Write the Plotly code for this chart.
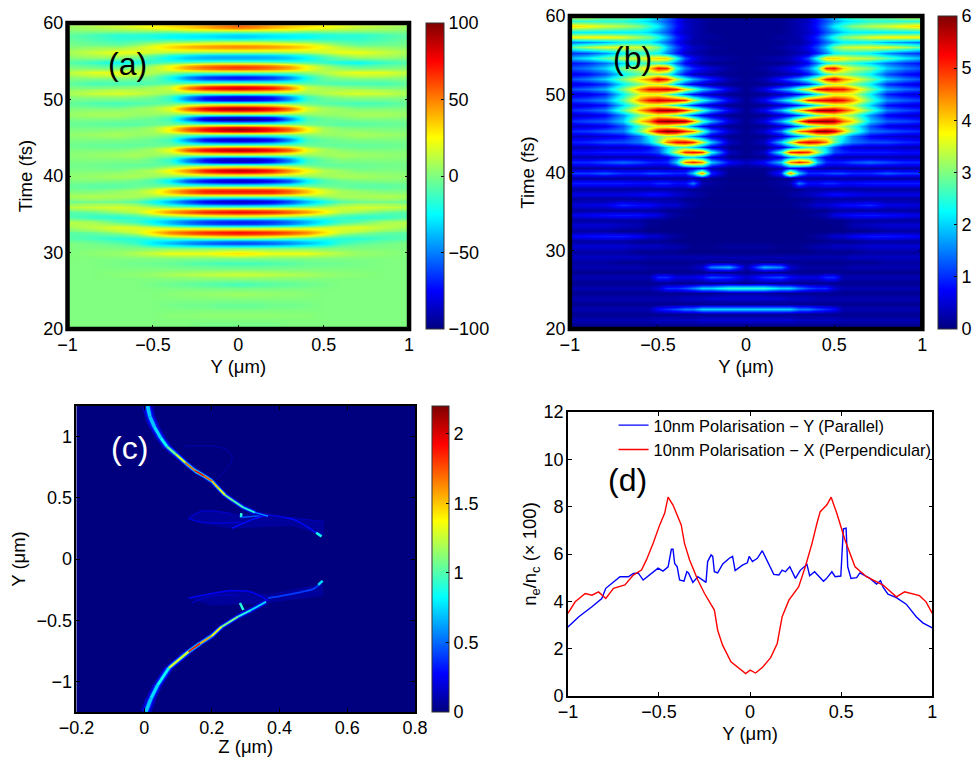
import numpy as np
import plotly.graph_objects as go
from plotly.colors import sample_colorscale

W, H = 976, 757
FONT = "Liberation Sans"

jet = [[0.0, "#00007f"], [0.125, "#0000ff"], [0.375, "#00ffff"],
       [0.625, "#ffff00"], [0.875, "#ff0000"], [1.0, "#7f0000"]]

# panel a: field, crests, troughs, their shoulders and zero rows, Y >= 0 half
a_y = [0, 0.1, 0.2, 0.3, 0.4, 0.5, 0.6, 0.7, 0.85, 1.0]
a_time = [59.6, 59.38, 58.93, 58.47, 58.25, 58.03, 57.58, 57.12, 56.9, 56.68, 56.23,
          55.77, 55.55, 55.33, 54.88, 54.42, 54.2, 53.98, 53.53, 53.07, 52.85, 52.63, 52.18,
          51.72, 51.5, 51.28, 50.83, 50.37, 50.15, 49.93, 49.48, 49.02, 48.8, 48.58, 48.13,
          47.67, 47.45, 47.23, 46.78, 46.32, 46.1, 45.88, 45.43, 44.97, 44.75, 44.53, 44.08,
          43.62, 43.4, 43.18, 42.73, 42.27, 42.05, 41.83, 41.38, 40.92, 40.7, 40.48, 40.03,
          39.57, 39.35, 39.13, 38.68, 38.22, 38.0, 37.78, 37.33, 36.87, 36.65, 36.43, 35.98,
          35.52, 35.3, 35.08, 34.63, 34.17, 33.95, 33.73, 33.28, 32.82, 32.6, 32.38, 31.93,
          31.47, 31.25, 31.03, 30.58, 29.9, 29.23, 28.55, 27.88, 27.2, 26.53,
          25.85, 25.18, 24.5, 23.83, 23.15, 22.48, 21.8, 21.13, 20.45, 19.78]
a_field = [
    [55, 50, 42, 35, 30, 25, 20, 15, 10, 5],
    [47, 43, 36, 30, 25, 21, 16, 12, 8, 4],
    [5, 5, 5, 5, 0, 0, 0, 0, 0, 0],
    [-30, -28, -25, -23, -21, -17, -15, -15, -10, -5],
    [-35, -33, -30, -28, -25, -20, -18, -18, -12, -6],
    [-30, -28, -25, -24, -21, -18, -17, -16, -10, -5],
    [5, 5, 3, 0, 0, -5, -8, -12, -8, -3],
    [42, 41, 38, 34, 27, 17, 3, -4, -2, -1],
    [50, 48, 45, 40, 32, 22, 10, 2, 2, 0],
    [42, 41, 39, 35, 29, 20, 14, 9, 6, 3],
    [5, 5, 5, 8, 10, 15, 22, 22, 15, 8],
    [-36, -36, -34, -28, -18, -6, 6, 12, 9, 4],
    [-42, -42, -40, -35, -25, -12, -2, 5, 5, 2],
    [-36, -36, -35, -32, -24, -14, -8, -6, -3, -2],
    [0, 0, -3, -8, -10, -15, -22, -25, -15, -8],
    [55, 53, 47, 37, 19, 4, -7, -12, -7, -3],
    [65, 62, 55, 45, 25, 10, 0, -5, -3, 0],
    [55, 53, 47, 38, 22, 10, 6, 4, 5, 4],
    [0, 0, 0, 0, 5, 10, 18, 22, 20, 12],
    [-64, -61, -55, -41, -18, -2, 8, 11, 10, 5],
    [-75, -72, -65, -48, -22, -5, 2, 5, 5, 2],
    [-64, -61, -56, -42, -20, -6, -3, -2, -2, 0],
    [0, 0, -3, -5, -8, -10, -12, -12, -12, -6],
    [72, 68, 61, 42, 12, 4, 0, -2, -4, -2],
    [85, 80, 72, 50, 15, 8, 5, 3, 0, 0],
    [72, 68, 61, 43, 13, 9, 9, 9, 6, 3],
    [0, 0, 0, 3, 5, 10, 15, 18, 15, 8],
    [-75, -72, -64, -42, -12, -1, 4, 6, 5, 3],
    [-88, -85, -75, -50, -15, -5, -2, 0, 0, 0],
    [-75, -72, -64, -43, -13, -6, -5, -4, -4, -2],
    [0, 0, 0, -3, -5, -8, -10, -12, -10, -5],
    [80, 76, 66, 46, 16, 5, 0, -4, -3, -2],
    [95, 90, 78, 55, 20, 8, 5, 0, 0, 0],
    [80, 76, 66, 47, 17, 7, 5, 3, 3, 2],
    [0, 0, 0, 0, 3, 5, 5, 8, 8, 5],
    [-85, -81, -72, -42, -10, -3, 0, 3, 3, 2],
    [-100, -95, -85, -50, -12, -5, -3, 0, 0, 0],
    [-85, -81, -72, -43, -11, -5, -5, -3, -2, -2],
    [0, 0, 0, 0, -3, -5, -8, -8, -6, -4],
    [80, 75, 64, 49, 23, 5, 0, -2, -2, -2],
    [95, 88, 75, 58, 28, 8, 3, 2, 0, 0],
    [80, 75, 64, 49, 24, 7, 4, 4, 2, 1],
    [0, 0, 0, 0, 3, 5, 5, 8, 6, 3],
    [-75, -72, -64, -41, -10, -3, 0, 3, 2, 1],
    [-88, -85, -75, -48, -12, -5, -2, 0, 0, 0],
    [-75, -72, -64, -41, -11, -5, -3, -2, -2, -1],
    [0, 0, 0, 0, -3, -5, -6, -6, -5, -3],
    [76, 72, 64, 49, 18, 5, 0, -2, -2, -1],
    [90, 85, 75, 58, 22, 8, 3, 0, 0, 0],
    [76, 72, 64, 49, 19, 7, 5, 3, 2, 1],
    [0, 0, 0, 0, 3, 5, 8, 6, 4, 2],
    [-76, -75, -64, -42, -12, -3, 3, 2, 2, 1],
    [-90, -88, -75, -50, -15, -5, 0, 0, 0, 0],
    [-76, -75, -64, -43, -13, -5, -2, -2, -1, -1],
    [0, 0, 0, 0, -3, -6, -6, -5, -3, -2],
    [75, 70, 60, 41, 21, 6, 2, -2, -1, -1],
    [88, 82, 70, 48, 25, 10, 5, 0, 0, 0],
    [75, 70, 60, 41, 21, 9, 6, 3, 2, 1],
    [0, 0, 0, 0, 3, 5, 8, 8, 5, 3],
    [-75, -72, -64, -51, -23, -7, 0, 2, 2, 1],
    [-88, -85, -75, -60, -28, -10, -5, -2, 0, 0],
    [-75, -72, -64, -51, -24, -9, -5, -4, -3, -2],
    [0, 0, 0, 0, 0, -3, -5, -8, -8, -5],
    [61, 61, 60, 49, 32, 14, 3, 0, -3, -2],
    [72, 72, 70, 58, 38, 18, 8, 5, 0, 0],
    [61, 61, 60, 49, 33, 16, 8, 6, 4, 3],
    [0, 0, 0, 0, 3, 5, 8, 8, 10, 8],
    [-75, -72, -66, -53, -33, -17, -3, 0, 2, 0],
    [-88, -85, -78, -62, -40, -22, -10, -5, -3, -5],
    [-75, -72, -66, -52, -33, -16, 0, 4, 4, 2],
    [0, 0, 0, 3, 5, 10, 15, 18, 15, 12],
    [64, 61, 58, 49, 39, 25, 13, 10, 3, -1],
    [75, 72, 68, 58, 45, 28, 12, 5, -5, -10],
    [64, 61, 57, 48, 36, 20, 1, -4, -9, -9],
    [0, 0, -3, -6, -10, -12, -15, -18, -15, -8],
    [-61, -60, -56, -47, -36, -25, -14, -10, 0, 4],
    [-72, -70, -65, -55, -40, -25, -12, -5, 8, 12],
    [-61, -60, -55, -46, -32, -16, 0, 5, 10, 10],
    [0, 0, 3, 5, 10, 15, 18, 20, 12, 6],
    [64, 61, 58, 52, 44, 30, 16, 11, 2, -2],
    [75, 72, 68, 60, 50, 32, 15, 5, -5, -8],
    [64, 61, 57, 50, 40, 22, 2, -4, -8, -8],
    [0, 0, -3, -8, -10, -15, -18, -18, -12, -8],
    [-53, -51, -47, -42, -34, -27, -16, -11, -6, -3],
    [-62, -60, -55, -48, -38, -28, -15, -8, -3, 0],
    [-53, -51, -47, -41, -32, -24, -9, -5, -2, 0],
    [0, 0, 0, 0, 0, 0, 0, 0, 0, 0],
    [32, 28, 22, 22, 22, 15, 10, 5, 3, 0],
    [0, 0, 0, 0, 0, 0, 0, 0, 0, 0],
    [-12, -12, -10, -8, -5, -4, -3, -2, 0, 0],
    [0, 0, 0, 0, 0, 0, 0, 0, 0, 0],
    [15, 14, 12, 10, 8, 5, 3, 2, 0, 0],
    [0, 0, 0, 0, 0, 0, 0, 0, 0, 0],
    [-12, -10, -8, -6, -4, -2, 0, 0, 0, 0],
    [0, 0, 0, 0, 0, 0, 0, 0, 0, 0],
    [6, 5, 4, 3, 2, 0, 0, 0, 0, 0],
    [0, 0, 0, 0, 0, 0, 0, 0, 0, 0],
    [-5, -5, -3, -3, -2, 0, 0, 0, 0, 0],
    [0, 0, 0, 0, 0, 0, 0, 0, 0, 0],
    [3, 3, 3, 2, 2, 0, 0, 0, 0, 0],
    [0, 0, 0, 0, 0, 0, 0, 0, 0, 0],
    [-2, -2, -2, 0, 0, 0, 0, 0, 0, 0],
    [0, 0, 0, 0, 0, 0, 0, 0, 0, 0],
]

# panel b: density stripes, bright and dark rows in turn, Y >= 0 half
b_y = [0, 0.1, 0.2, 0.25, 0.3, 0.35, 0.4, 0.45, 0.5, 0.55, 0.6, 0.7, 0.8, 0.9, 1.0]
b_time = [60.0, 59.33, 58.66, 57.99, 57.3, 56.65, 56.0, 55.32, 54.65, 53.98,
          53.31, 52.64, 51.97, 51.3, 50.64, 49.97, 49.3, 48.63, 47.96, 47.29,
          46.6, 45.95, 45.3, 44.62, 43.95, 43.28, 42.6, 41.94, 41.3, 40.61,
          39.94, 39.27, 38.6, 37.93, 37.26, 36.59, 35.9, 35.25, 34.6, 33.92,
          33.25, 32.58, 31.9, 31.24, 30.6, 29.9, 29.2, 28.57, 27.9, 27.23,
          26.6, 25.9, 25.2, 24.57, 23.9, 23.23, 22.6, 21.9, 21.2, 20.55, 19.9]
b_density = [
    [.1, .1, .15, .2, .3, .5, 1, 1.5, 2, 2.5, 2.8, 3, 3, 3.5, 3.5],
    [.1, .1, .1, .2, .3, .4, .8, 1.2, 1.6, 2, 2.2, 2.5, 2.5, 2.5, 2.5],
    [.1, .1, .1, .2, .3, .5, .9, 1.5, 2.2, 2.6, 3, 3.3, 3.5, 3.8, 4],
    [.1, .1, .1, .2, .3, .4, .7, 1.2, 1.6, 2, 2.2, 2.2, 2.2, 2.2, 2.2],
    [.1, .1, .2, .2, .3, .6, 1, 1.8, 2.5, 3, 3.2, 3.6, 3.8, 3.8, 3.8],
    [.1, .1, .1, .2, .2, .4, .8, 1.3, 1.8, 2.2, 2.2, 2.2, 1.8, 1.6, 1.4],
    [.1, .1, .2, .3, .4, .7, 1.2, 2, 3, 3.4, 3.5, 3.6, 3.6, 3.3, 2.8],
    [.1, .1, .1, .2, .3, .4, .9, 1.5, 2.2, 2.4, 2.4, 2.2, 1.6, 1.2, 1],
    [.1, .2, .3, .4, .7, 1.2, 2.5, 4, 4, 3.8, 3.5, 3.4, 2.8, 2.2, 1.8],
    [.1, .1, .1, .2, .4, .7, 1.4, 2.2, 2.6, 2.6, 2.5, 2, 1.4, 1, .8],
    [.1, .2, .5, .7, 1, 1.5, 2.5, 5, 5.2, 4, 3.5, 3, 2, 1.5, 1.2],
    [.1, .1, .2, .3, .4, .8, 1.5, 2.5, 3, 3, 2.8, 2.2, 1.2, .8, .6],
    [.1, .3, .9, 1.3, 1.8, 2.5, 3.5, 5, 5.5, 4.5, 4, 3, 2, 1.5, 1.2],
    [.1, .1, .2, .4, .6, 1, 1.8, 3, 3.4, 3.4, 3, 2.2, 1, .7, .5],
    [.1, .6, 1.5, 2, 3, 3.8, 5.2, 5.5, 5.3, 5.2, 4.5, 3, 1.8, 1.4, 1.2],
    [.1, .1, .3, .5, .8, 1.3, 2.2, 3, 3.5, 3.5, 3.5, 2.2, .9, .6, .5],
    [.1, .7, 1.8, 2.5, 3.5, 5, 5.3, 5.4, 5.5, 5.2, 4.5, 2.8, 1.6, 1.3, 1.1],
    [.1, .1, .4, .6, 1, 1.6, 2.4, 3, 3.4, 3.5, 3.3, 2, .8, .6, .5],
    [.1, .7, 1.8, 2.8, 4, 5, 5.8, 5.9, 5.8, 5, 4.3, 2.8, 1.5, 1.2, 1],
    [.1, .1, .4, .7, 1.2, 2, 2.8, 3.2, 3.5, 3.3, 3, 1.6, .7, .5, .4],
    [.1, .6, 1.8, 2.8, 4.5, 5.8, 5.9, 6, 5.8, 4.6, 4, 2, 1.3, 1.2, 1],
    [.1, .1, .4, .8, 1.5, 2.5, 3, 3.4, 3.5, 3.2, 2.6, 1.2, .6, .5, .4],
    [.1, .5, 1.5, 3, 4.5, 5, 5.9, 6, 5.5, 4.2, 3, 1.5, 1.3, 1.1, 1],
    [.1, .1, .4, 1, 1.6, 2.4, 3, 3.2, 2.8, 2.2, 1.4, .7, .5, .4, .4],
    [.1, .4, 2, 3.5, 5, 5.4, 5.2, 4.5, 3, 2, 1.5, 1.2, 1.2, 1, .9],
    [.1, .1, .5, 1.2, 2, 2.6, 2.5, 2, 1.2, .7, .5, .4, .4, .3, .3],
    [.1, .4, 2.5, 5, 5.2, 5, 3.5, 2.2, 1.2, 1, .9, .9, .9, .8, .8],
    [.1, .1, .6, 1.5, 2.2, 2, 1.2, .6, .4, .3, .3, .3, .3, .3, .3],
    [.4, .8, 2, 4.5, 5, 4.5, 2, 1, .9, 1, 1.2, 1.4, 1.2, 1, 1],
    [.1, .1, .3, .8, .6, .4, .3, .2, .2, .2, .2, .2, .2, .2, .2],
    [.1, .1, 1, 4.5, 2, 1, 1, 1.1, 1.2, 1.2, 1, 1, 1.3, 1.1, 1.1],
    [.05, .05, .1, .1, .2, .2, .2, .2, .2, .2, .2, .2, .2, .2, .2],
    [.1, .1, .2, .3, 1.5, .8, .8, 1, 1, .8, .8, .9, .9, .9, .9],
    [.05, .05, .1, .1, .1, .2, .2, .2, .2, .2, .2, .2, .2, .2, .2],
    [.1, .1, .1, .2, .3, .4, .5, .7, .8, .8, .7, .6, .6, .6, .6],
    [.05, .05, .05, .1, .1, .1, .2, .2, .2, .2, .2, .2, .2, .2, .2],
    [.1, .1, .1, .1, .2, .3, .5, .5, .6, .8, .8, 1, .6, .6, .5],
    [.05, .05, .05, .05, .05, .1, .1, .1, .2, .2, .2, .2, .2, .2, .2],
    [.05, .05, .05, .05, .1, .1, .2, .3, .6, .7, .8, .9, .8, .7, .6],
    [.05, .05, .05, .05, .05, .05, .05, .1, .1, .1, .2, .2, .2, .2, .2],
    [.05, .05, .05, .05, .05, .05, .05, .05, .1, .1, .3, .4, .5, .5, .5],
    [.05, .05, .05, .05, .05, .05, .05, .05, .05, .05, .1, .1, .2, .2, .2],
    [.05, .05, .05, .05, .05, .1, .2, .3, .5, .5, .7, .9, .9, .8, .7],
    [.05, .05, .05, .05, .05, .05, .05, .1, .1, .1, .1, .2, .2, .2, .2],
    [.2, .2, .1, .1, .1, .2, .3, .3, .4, .4, .4, .5, .5, .5, .5],
    [.05, .05, .05, .05, .05, .05, .1, .1, .1, .1, .1, .2, .2, .2, .2],
    [.3, .3, .3, .3, .3, .3, .3, .3, .3, .3, .4, .4, .4, .4, .4],
    [.1, .1, .1, .1, .1, .1, .1, .1, .1, .1, .1, .1, .2, .2, .2],
    [.3, 1.8, 1.5, .5, .3, .2, .2, .2, .2, .2, .3, .3, .3, .3, .3],
    [.1, .1, .1, .1, .1, .1, .1, .1, .1, .1, .1, .1, .1, .1, .1],
    [.5, 1, 1.2, .8, .6, .6, .6, 1, 1, .3, .3, .3, .3, .3, .3],
    [.1, .2, .1, .1, .1, .1, .1, .1, .1, .1, .1, .1, .1, .1, .1],
    [2.5, 2.5, 2, 2, 1.5, 1.2, 1, 1, .5, .3, .3, .3, .3, .3, .3],
    [.2, .2, .1, .1, .1, .1, .1, .1, .1, .1, .1, .1, .1, .1, .1],
    [.5, .5, .5, .4, .4, .4, .3, .3, .3, .3, .3, .3, .3, .3, .3],
    [.1, .1, .1, .1, .1, .1, .1, .1, .1, .1, .1, .1, .1, .1, .1],
    [2, 2, 2, 2, 1.5, 1.5, 1.2, 1, .8, .3, .3, .3, .3, .3, .3],
    [.1, .1, .1, .1, .1, .1, .1, .1, .1, .1, .1, .1, .1, .1, .1],
    [.5, .5, .5, .5, .4, .4, .4, .4, .4, .3, .3, .3, .3, .3, .3],
    [.1, .1, .1, .1, .1, .1, .1, .1, .1, .1, .1, .1, .1, .1, .1],
    [.2, .2, .2, .2, .2, .2, .2, .2, .2, .2, .2, .2, .2, .2, .2],
]

# panel c: flat background plus the thin density ridges
c_z_axis = [-0.2, 0.8]
c_y_axis = [-1.25, 1.25]
c_background = [[0, 0], [0, 0]]
upper_z = [.01, .017, .03, .05, .068, .093, .122, .151, .176, .2, .22, .239, .263, .293, .327, .366]
upper_y = [1.25, 1.163, 1.08, .985, .917, .857, .786, .72, .68, .637, .577, .522, .476, .421, .38, .35]
upper_val = [.7, .7, .75, .85, 1.05, 1.3, 1.7, 1.95, 1.75, 1.5, 1.35, 1.1, 1.0, .9, .6, .8]
upper_width = [4.5, 4.5, 4, 3.5, 2.8, 2.4, 2.1, 2.1, 2.1, 2.1, 2.1, 2.1, 2.1, 2.1, 1.5, 1.5]
lower_z = [.005, .02, .04, .073, .131, .165, .199, .229, .278, .316, .36]
lower_y = [-1.25, -1.14, -1.03, -.89, -.757, -.69, -.63, -.553, -.47, -.417, -.35]
lower_val = [.7, .75, .85, 1.3, 1.9, 1.6, 1.4, 1.1, .9, .75, .6]
lower_width = [4.5, 4, 3.5, 2.6, 2.1, 2.1, 2.1, 2.1, 2.2, 2.2, 1.5]
# faint fans behind the tips
fan_z = [[.13, .17, .29, .366, .53, .53, .44, .26, .17],
         [.13, .25, .366, .527, .53, .366, .283, .2]]
fan_y = [[.33, .39, .37, .36, .305, .19, .27, .25, .29],
         [-.32, -.25, -.29, -.2, -.3, -.36, -.37, -.38]]
fan_val = [.06, .06]
# brighter branches near the tips
branch_z = [[.286, .287], [.286, .366], [.259, .316, .366], [.366, .444, .503, .524],
            [.366, .532], [.131, .17, .258], [.131, .17, .286], [.12, .24, .26, .21],
            [.527, .503, .463, .366], [.283, .293], [.131, .257, .316, .366], [.14, .2, .28],
            [.508, .524], [.527, .514]]
branch_y = [[.34, .375], [.34, .36], [.25, .32, .36], [.36, .32, .223, .188],
            [.36, .305], [.33, .39, .37], [.33, .30, .30], [.92, .9, .82, .64],
            [-.178, -.24, -.27, -.32], [-.36, -.417], [-.32, -.26, -.27, -.34], [-.36, -.3, -.3],
            [.215, .185], [-.178, -.212]]
branch_val = [.9, .45, .3, .3, .14, .15, .18, .1, .4, .9, .25, .13, .85, .75]
branch_width = [2.5, 1.5, 1.5, 1.5, 1, 1.5, 1.5, 1, 1.8, 2.5, 1.5, 1.5, 2.5, 2.5]

# panel d: line profiles
blue_y = [-1, -.94, -.868, -.814, -.792, -.75, -.714, -.668, -.641, -.614, -.587, -.505, -.478, -.45,
          -.432, -.423, -.414, -.4, -.387, -.363, -.347, -.338, -.314, -.287, -.242, -.233, -.214,
          -.205, -.196, -.178, -.15, -.114, -.096, -.082, -.042, -.015, -.005, .013, .04, .067, .094,
          .13, .158, .176, .194, .218, .249, .276, .312, .327, .354, .403, .418, .449, .467, .498,
          .512, .527, .536, .554, .585, .603, .658, .694, .716, .73, .757, .803, .857, .912, .948, 1]
blue_n = [2.92, 3.35, 3.77, 4.12, 4.55, 4.8, 5.04, 5.04, 5.18, 5.2, 4.9, 5.4, 5.28, 5.46,
          6.2, 6.2, 5.6, 5.46, 4.9, 4.85, 5.25, 5.2, 4.8, 5.04, 4.8, 5.68, 5.96,
          5.9, 5.25, 5.2, 5.58, 5.82, 5.9, 5.3, 5.53, 5.63, 5.9, 5.68, 5.82, 6.14, 5.68,
          5.14, 5.11, 5.32, 5.25, 5.46, 4.97, 5.32, 5.56, 5.08, 5.25, 4.85, 4.95, 5.25, 5.04, 5.07,
          7.06, 7.09, 5.46, 4.97, 5.0, 5.2, 4.97, 4.73, 4.87, 4.6, 4.3, 4.16, 3.88, 3.35, 3.09, 2.88]
red_y = [-1, -.96, -.905, -.868, -.832, -.792, -.75, -.687, -.641, -.596, -.569, -.532, -.496, -.469,
         -.45, -.423, -.378, -.36, -.332, -.287, -.25, -.196, -.178, -.151, -.105, -.06, -.024, 0,
         .03, .067, .113, .149, .176, .213, .267, .303, .34, .367, .385, .421, .445, .476, .521,
         .576, .639, .73, .803, .848, .93, .966, 1]
red_n = [3.49, 3.98, 4.33, 4.26, 4.4, 4.12, 4.55, 4.69, 5.11, 5.32, 5.75, 6.45, 7.23, 7.72,
         8.4, 8.07, 7.23, 6.45, 5.75, 4.9, 4.33, 3.63, 2.78, 2.15, 1.44, 1.16, .95, 1.09,
         .97, 1.2, 1.62, 2.22, 3.35, 4.05, 4.62, 5.46, 6.45, 7.3, 7.79, 8.07, 8.4, 7.72, 6.59,
         5.46, 5.04, 4.69, 4.19, 4.4, 4.24, 3.98, 3.49]


def mirror_y(half_y):
    return [-v for v in half_y[:0:-1]] + list(half_y)


def mirror_rows(rows):
    rows = np.array(rows, dtype=float)
    return np.hstack([rows[:, :0:-1], rows])


def jet_color(v):
    return sample_colorscale(jet, [min(v / 2.2, 1.0)])[0]


def colorbar(px0, px1, py0, py1, vals, texts=None):
    return dict(x=(px0 + 3) / W, xanchor="left", xref="paper", y=1 - py1 / H, yanchor="bottom", yref="paper",
                len=(py1 - py0) / H, lenmode="fraction", thickness=px1 - px0, thicknessmode="pixels",
                xpad=0, ypad=0, outlinecolor="#333333", outlinewidth=1, ticks="inside", ticklen=3,
                tickcolor="black", tickvals=vals, ticktext=texts,
                tickfont=dict(family=FONT, size=18, color="black"))


fig = go.Figure()

fig.add_trace(go.Heatmap(x=mirror_y(a_y), y=a_time, z=mirror_rows(a_field), zmin=-100, zmax=100,
                         colorscale=jet, zsmooth="best", xaxis="x", yaxis="y",
                         colorbar=colorbar(426, 444, 23, 329, [-100, -50, 0, 50, 100])))
fig.add_trace(go.Heatmap(x=mirror_y(b_y), y=b_time, z=mirror_rows(b_density), zmin=0, zmax=6,
                         colorscale=jet, zsmooth="best", xaxis="x2", yaxis="y2",
                         colorbar=colorbar(942, 961, 16, 329, [0, 1, 2, 3, 4, 5, 6])))
fig.add_trace(go.Heatmap(x=c_z_axis, y=c_y_axis, z=c_background, zmin=0, zmax=2.2,
                         colorscale=jet, xaxis="x3", yaxis="y3",
                         colorbar=colorbar(432, 449, 406, 712, [0, 0.5, 1, 1.5, 2], ["0", "0.5", "1", "1.5", "2"])))

for zs, ys, val in zip(fan_z, fan_y, fan_val):
    fig.add_trace(go.Scatter(x=zs, y=ys, mode="lines", fill="toself", fillcolor=jet_color(val),
                             line=dict(width=0, color=jet_color(val)), xaxis="x3", yaxis="y3", showlegend=False))
for zs, ys, val, width in zip(branch_z, branch_y, branch_val, branch_width):
    fig.add_trace(go.Scatter(x=zs, y=ys, mode="lines", xaxis="x3", yaxis="y3",
                             line=dict(color=jet_color(val), width=width, shape="spline"), showlegend=False))

# ridges: wide blue glow, then a mid layer, then the coloured core
for zs, ys, vals, widths in [(upper_z, upper_y, upper_val, upper_width), (lower_z, lower_y, lower_val, lower_width)]:
    for scale, gain in [(2.3, 0.2), (1.4, 0.45), (0.8, 1.0)]:
        for i in range(len(zs) - 1):
            fig.add_trace(go.Scatter(x=zs[i:i + 2], y=ys[i:i + 2], mode="lines", xaxis="x3", yaxis="y3",
                                     line=dict(color=jet_color(vals[i] * gain), width=widths[i] * scale),
                                     showlegend=False))

fig.add_trace(go.Scatter(x=blue_y, y=blue_n, mode="lines", name="10nm Polarisation \u2212 Y (Parallel)",
                         line=dict(color="#0000ff", width=1.4), xaxis="x4", yaxis="y4"))
fig.add_trace(go.Scatter(x=red_y, y=red_n, mode="lines", name="10nm Polarisation \u2212 X (Perpendicular)",
                         line=dict(color="#ff0000", width=1.4), xaxis="x4", yaxis="y4"))


def axis(px0, px1, horizontal, rng, title, dtick, standoff, width=1.5):
    dom = [px0 / W, px1 / W] if horizontal else [1 - px1 / H, 1 - px0 / H]
    return dict(domain=dom, range=rng, dtick=dtick, ticks="inside", ticklen=4, tickcolor="black",
                showline=True, linecolor="black", linewidth=width, mirror="allticks", showgrid=False,
                zeroline=False, ticklabelstandoff=-1, automargin=False,
                tickfont=dict(family=FONT, size=18, color="black"),
                title=dict(text=title, standoff=standoff, font=dict(family=FONT, size=18.5, color="black")))


def label(text, px, py, color="black"):
    return dict(text=text, x=px / W, y=1 - py / H, xref="paper", yref="paper", showarrow=False,
                xanchor="center", yanchor="middle", font=dict(family=FONT, size=32, color=color))


def frame(xref, yref):
    return dict(type="rect", xref=xref + " domain", yref=yref + " domain", x0=0, x1=1, y0=0, y1=1,
                line=dict(color="black", width=4.5), layer="above")


fig.update_layout(
    width=W, height=H, margin=dict(l=0, r=0, t=0, b=0), paper_bgcolor="white", plot_bgcolor="white",
    xaxis=dict(anchor="y", **axis(68, 412, True, [-1, 1], "Y (\u03bcm)", 0.5, 6)),
    yaxis=dict(anchor="x", **axis(23, 329, False, [20, 60], "Time (fs)", 10, 6)),
    xaxis2=dict(anchor="y2", **axis(574, 929, True, [-1, 1], "Y (\u03bcm)", 0.5, 6)),
    yaxis2=dict(anchor="x2", **axis(16, 329, False, [20, 60], "Time (fs)", 10, 6)),
    xaxis3=dict(anchor="y3", **axis(77, 418, True, [-0.2, 0.8], "Z (\u03bcm)", 0.2, 7)),
    yaxis3=dict(anchor="x3", **axis(406, 712, False, [-1.25, 1.25], "Y (\u03bcm)", 0.5, 6)),
    xaxis4=dict(anchor="y4", **axis(572, 939, True, [-1, 1], "Y (\u03bcm)", 0.5, 6)),
    yaxis4=dict(anchor="x4", **axis(412, 696, False, [0, 12], "n<sub>e</sub>/n<sub>c</sub> (\u00d7 100)", 2, 2)),
    legend=dict(x=618 / W, y=1 - 408 / H, xanchor="left", yanchor="top", bgcolor="rgba(0,0,0,0)",
                font=dict(family=FONT, size=16.4, color="black"), itemwidth=30, tracegroupgap=0),
    shapes=[frame("x", "y"), frame("x2", "y2")],
    annotations=[label("(a)", 128, 64), label("(b)", 637, 58),
                 label("(c)", 130, 448, "white"), label("(d)", 632, 480)],
)

fig.write_html("out.html", config=dict(displayModeBar=False),
               post_script="document.body.style.margin='0';document.body.style.overflow='hidden';")
